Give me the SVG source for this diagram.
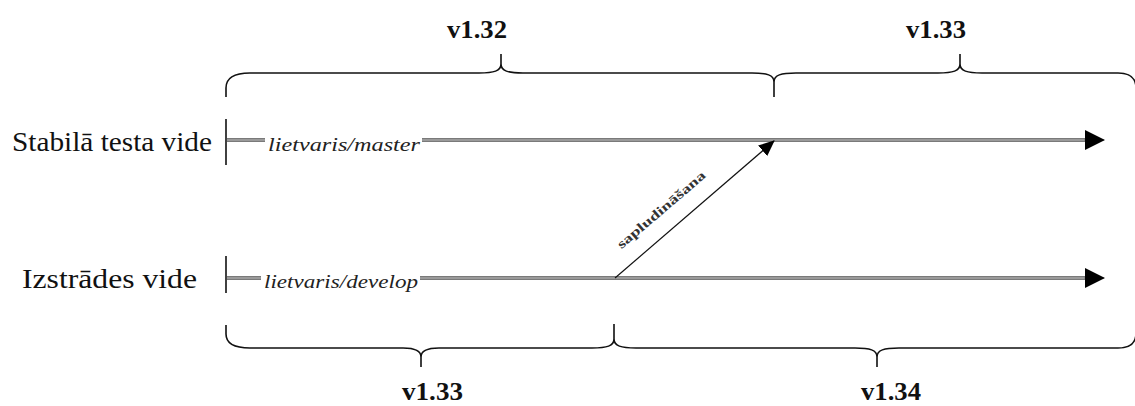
<svg xmlns="http://www.w3.org/2000/svg" width="1135" height="406" viewBox="0 0 1135 406">
<style>
.brace{fill:none;stroke:#111;stroke-width:1.6;stroke-linejoin:round}
.tick{stroke:#111;stroke-width:1.6}
.trackO{stroke:#7a7a7a;stroke-width:4}
.trackI{stroke:#9a9a9a;stroke-width:2}
.env{font-family:"Liberation Serif","Times New Roman",serif;font-size:27px;fill:#111}
.ver{font-family:"Liberation Serif","Times New Roman",serif;font-size:25px;font-weight:bold;fill:#111}
.br{font-family:"Liberation Serif","Times New Roman",serif;font-size:18px;font-style:italic;fill:#222}
.merge{font-family:"Liberation Serif","Times New Roman",serif;font-size:13px;font-weight:bold;fill:#333}
</style>
<defs>
<marker id="ah" markerWidth="20" markerHeight="20" refX="19" refY="10" orient="auto" markerUnits="userSpaceOnUse">
<path d="M0,0 L20,10 L0,20 Z" fill="#000"/>
</marker>
<marker id="ahs" markerWidth="16" markerHeight="14" refX="15" refY="7" orient="auto" markerUnits="userSpaceOnUse">
<path d="M0,0 L16,7 L0,14 Z" fill="#000"/>
</marker>
</defs>
<rect width="1135" height="406" fill="#fff"/>

<g id="braces">
<path class="brace" d="M226,97 L226,88 C226,78 234,73 250,73 L479,73 C494,73 501,71 501,64 L501,54 M501,64 C501,71 508,73 523,73 L752,73 C767,73 774,75 774,82 L774,97 M774,82 C774,75 781,73 796,73 L938,73 C953,73 960,71 960,64 L960,54 M960,64 C960,71 967,73 982,73 L1118,73 C1130,73 1136,78 1136,88"/>
<path class="brace" d="M226,325 L226,334 C226,343 234,348 250,348 L403,348 C414,348 421,350 421,357 L421,367 M421,357 C421,350 428,348 439,348 L592,348 C607,348 614,346 614,339 L614,324 M614,339 C614,346 621,348 636,348 L855,348 C870,348 877,350 877,357 L877,367 M877,357 C877,350 884,348 899,348 L1118,348 C1130,348 1136,343 1136,333"/>
</g>

<g id="connectors">
<line class="trackO" x1="227" y1="140" x2="1086" y2="140"/>
<line class="trackI" x1="227" y1="140" x2="1086" y2="140"/>
<line x1="1084" y1="140" x2="1104" y2="140" stroke="#7a7a7a" stroke-width="1" marker-end="url(#ah)"/>
<line class="trackO" x1="227" y1="278" x2="1086" y2="278"/>
<line class="trackI" x1="227" y1="278" x2="1086" y2="278"/>
<line x1="1084" y1="278" x2="1104" y2="278" stroke="#7a7a7a" stroke-width="1" marker-end="url(#ah)"/>
<line x1="615" y1="278" x2="774" y2="141" stroke="#111" stroke-width="1.2" marker-end="url(#ahs)"/>
<text class="merge" transform="translate(664,213) rotate(-40.5)" text-anchor="middle" textLength="112" lengthAdjust="spacingAndGlyphs">sapludināšana</text>
</g>

<g id="stable">
<line class="tick" x1="226" y1="119" x2="226" y2="165"/>
<text class="env" x="12" y="151" textLength="200" lengthAdjust="spacingAndGlyphs">Stabilā testa vide</text>
<rect x="265" y="132" width="157" height="20" fill="#fff"/>
<text class="br" x="268" y="151" textLength="152" lengthAdjust="spacingAndGlyphs">lietvaris/master</text>
</g>

<g id="develop">
<line class="tick" x1="226" y1="256" x2="226" y2="293"/>
<text class="env" x="22" y="288" textLength="175" lengthAdjust="spacingAndGlyphs">Izstrādes vide</text>
<rect x="261" y="270" width="159" height="20" fill="#fff"/>
<text class="br" x="264" y="288" textLength="154" lengthAdjust="spacingAndGlyphs">lietvaris/develop</text>
</g>

<g id="versions">
<text class="ver" x="447" y="38" textLength="60" lengthAdjust="spacingAndGlyphs">v1.32</text>
<text class="ver" x="906" y="38" textLength="60" lengthAdjust="spacingAndGlyphs">v1.33</text>
<text class="ver" x="402" y="400" textLength="61" lengthAdjust="spacingAndGlyphs">v1.33</text>
<text class="ver" x="861" y="400" textLength="60" lengthAdjust="spacingAndGlyphs">v1.34</text>
</g>
</svg>
